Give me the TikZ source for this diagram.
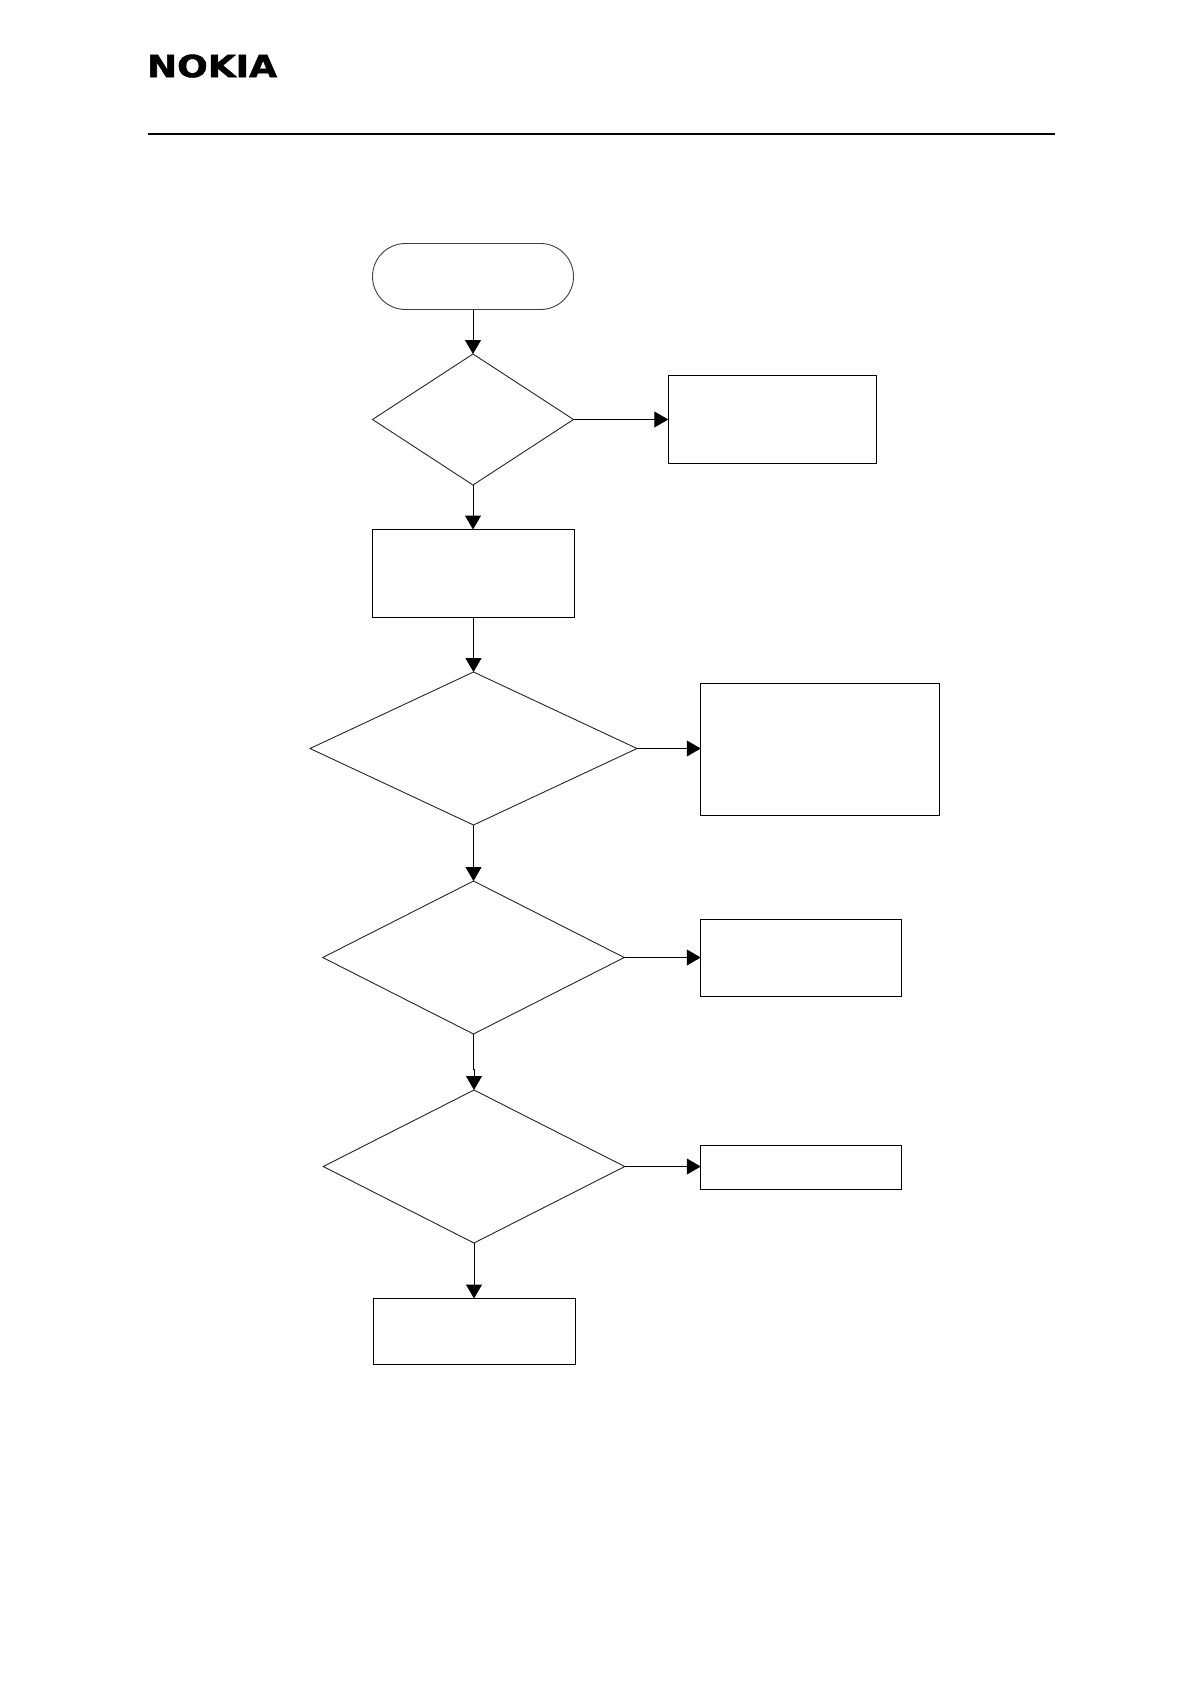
\documentclass[tikz,border=0pt]{standalone}
\usepackage{fontspec}
\usepackage{graphicx}
\usetikzlibrary{arrows.meta,shapes.geometric,shapes.misc,calc}
\newfontfamily\logofont{DejaVu Sans}[FakeBold=1.6]
\tikzset{
  procbox/.style={draw=black,line width=0.95pt,rectangle,inner sep=0pt,outer sep=0pt,fill=white},
  decision/.style={draw=black!85,line width=0.9pt,diamond,inner sep=0pt,outer sep=0pt,fill=white},
  terminal/.style={draw=black!75,line width=0.9pt,rounded rectangle,rounded rectangle arc length=180,inner sep=0pt,outer sep=0pt,fill=white},
  flow/.style={draw=black,line width=1pt,-{Triangle[length=14pt,width=16pt]}},
  headrule/.style={draw=black,line width=2.2pt},
}
\begin{document}
\begin{tikzpicture}[x=1pt,y=-1pt]
\useasboundingbox[fill=white] (0,0) rectangle (1190,1682);

% header
\node[anchor=south west,inner sep=0pt,outer sep=0pt] (logo) at (147,77.5)
  {\resizebox{130pt}{22.5pt}{\logofont\bfseries NOKIA}};
\coordinate (ruleL) at (148,134);
\coordinate (ruleR) at (1054.5,134);
\draw[headrule] (ruleL) -- (ruleR);

% main column
\node[terminal,minimum width=201pt,minimum height=66pt] (start) at (473,276.5) {};
\node[decision,minimum width=201pt,minimum height=131pt,shape aspect=1.534] (d1) at (473,419.5) {};
\node[procbox,minimum width=201.5pt,minimum height=88pt] (b1) at (473.5,573.5) {};
\node[decision,minimum width=327pt,minimum height=153pt,shape aspect=2.137] (d2) at (473.5,748.5) {};
\node[decision,minimum width=301.5pt,minimum height=153pt,shape aspect=1.971] (d3) at (473.5,957.5) {};
\node[decision,minimum width=301.5pt,minimum height=153pt,shape aspect=1.971] (d4) at (474,1166.5) {};
\node[procbox,minimum width=201.5pt,minimum height=66pt] (b2) at (474.5,1331.5) {};

% side boxes
\node[procbox,minimum width=208pt,minimum height=88pt] (a1) at (772.25,419.5) {};
\node[procbox,minimum width=238.5pt,minimum height=132pt] (a2) at (820,749.5) {};
\node[procbox,minimum width=200.5pt,minimum height=77.5pt] (a3) at (801,958) {};
\node[procbox,minimum width=200.5pt,minimum height=43.5pt] (a4) at (801,1167.5) {};

% connectors
\draw[flow] (start.south) -- (d1.north);
\draw[flow] (d1.south) -- (b1.north -| d1.south);
\draw[flow] (b1.south -| d2.north) -- (d2.north);
\draw[flow] (d2.south) -- (d3.north);
\draw[flow] (d3.south) -- ++(0,35) -| (d4.north);
\draw[flow] (d4.south) -- (b2.north -| d4.south);
\draw[flow] (d1.east) -- (a1.west |- d1.east);
\draw[flow] (d2.east) -- (a2.west |- d2.east);
\draw[flow] (d3.east) -- (a3.west |- d3.east);
\draw[flow] (d4.east) -- (a4.west |- d4.east);
\end{tikzpicture}
\end{document}
